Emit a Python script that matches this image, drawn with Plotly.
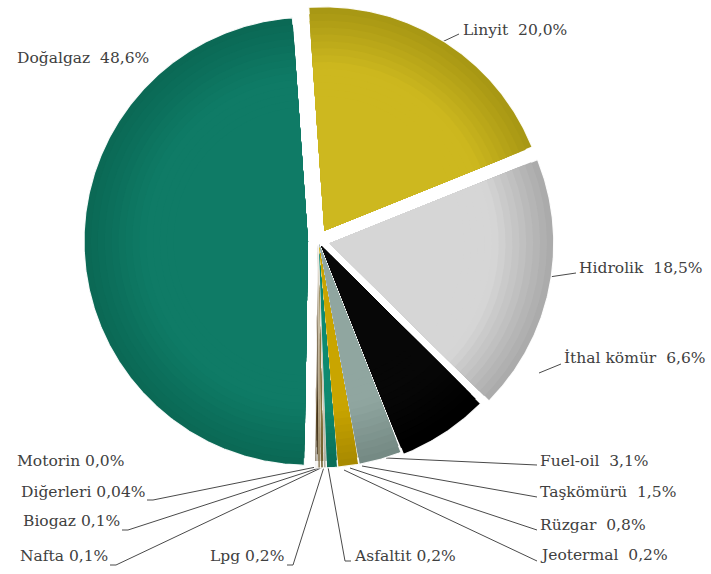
import numpy as np
import plotly.graph_objects as go

# Electricity generation by source (share, %)
sources = ["Linyit", "Hidrolik", "İthal kömür", "Fuel-oil", "Taşkömürü", "Rüzgar",
           "Jeotermal", "Asfaltit", "Lpg", "Nafta", "Biogaz", "Diğerleri", "Motorin",
           "Doğalgaz"]
shares = [20.0, 18.5, 6.6, 3.1, 1.5, 0.8, 0.2, 0.2, 0.2, 0.1, 0.1, 0.04, 0.0, 48.6]
share_text = ["20,0%", "18,5%", "6,6%", "3,1%", "1,5%", "0,8%", "0,2%", "0,2%", "0,2%",
              "0,1%", "0,1%", "0,04%", "0,0%", "48,6%"]

colors = ["#CDB81F", "#D6D6D6", "#070707", "#90A6A0", "#C9A500", "#0E8A70",
          "#CFCDBE", "#8C7A40", "#B3A382", "#4A3A20", "#6A5530", "#2A2A2A", "#111111",
          "#0F7B66"]
edge_colors = ["#A89814", "#ABABAB", "#000000", "#758A84", "#A88A00", "#0A6D58",
               "#AFAD9E", "#6C5C2A", "#938362", "#3A2A10", "#4A3A20", "#1A1A1A", "#000000",
               "#0B6955"]

W, H = 711, 574
CX, CY, R = 318, 241, 224
ROT = -4.0                       # start angle, degrees clockwise from 12 o'clock
pull = [12, 12, 6, 3, 3, 3, 3, 3, 3, 3, 3, 3, 3, 10]

fig = go.Figure()

# leader lines: (start point on the slice, end point beside the label)
leaders = {
    "Linyit": [(442, 42), (459, 34)],
    "Hidrolik": [(549, 277), (576, 273)],
    "İthal kömür": [(539, 373), (561, 364)],
    "Fuel-oil": [(386, 458), (537, 465)],
    "Taşkömürü": [(362, 466), (537, 497)],
    "Rüzgar": [(350, 468), (537, 530)],
    "Jeotermal": [(344, 470), (537, 561)],
    "Asfaltit": [(328, 467), (345, 561), (351, 561)],
    "Lpg": [(324, 467), (293, 565), (287, 565)],
    "Nafta": [(323, 467), (116, 565), (110, 565)],
    "Biogaz": [(322, 467), (128, 530), (122, 530)],
    "Diğerleri": [(321, 466), (153, 500), (147, 500)],
}
for pts in leaders.values():
    fig.add_trace(go.Scatter(x=[p[0] for p in pts], y=[p[1] for p in pts], mode="lines",
                             line=dict(color="#4a4a4a", width=1), hoverinfo="skip",
                             showlegend=False))


def rgb(hexstr):
    return np.array([int(hexstr[k:k + 2], 16) for k in (1, 3, 5)], dtype=float)


# slices
total = sum(shares)
start = ROT
steps = 14
for i, (name, v) in enumerate(zip(sources, shares)):
    span = 360.0 * v / total
    if span <= 0:
        continue
    end = start + span
    mid = np.radians((start + end) / 2)
    vx = CX + pull[i] * np.sin(mid)
    vy = CY - pull[i] * np.cos(mid)
    th = np.radians(np.linspace(start, end, max(int(span * 2), 4)))
    # soft shading: nested wedges blending from the rim colour to the body colour
    c0, c1 = rgb(edge_colors[i]), rgb(colors[i])
    for s in range(steps):
        t = s / (steps - 1)
        f = 1.0 - 0.4 * t
        c = (c0 + (c1 - c0) * min(1.0, t * 1.6)).astype(int)
        xs = np.concatenate([[vx], vx + R * f * np.sin(th), [vx]])
        ys = np.concatenate([[vy], vy - R * f * np.cos(th), [vy]])
        fig.add_trace(go.Scatter(
            x=xs, y=ys, mode="lines", fill="toself",
            fillcolor="rgb(%d,%d,%d)" % tuple(c),
            line=dict(color="rgba(255,255,255,0.9)" if s == 0 else "rgba(0,0,0,0)",
                      width=1.2 if s == 0 else 0),
            hoverinfo="skip", showlegend=False))
    start = end

# labels: (x, y, anchor)
label_pos = {
    "Doğalgaz": (15, 58, "left"),
    "Linyit": (461, 30, "left"),
    "Hidrolik": (577, 268, "left"),
    "İthal kömür": (562, 358, "left"),
    "Fuel-oil": (538, 461, "left"),
    "Taşkömürü": (538, 492, "left"),
    "Rüzgar": (538, 525, "left"),
    "Jeotermal": (538, 555, "left"),
    "Asfaltit": (352, 556, "left"),
    "Lpg": (286, 556, "right"),
    "Nafta": (110, 556, "right"),
    "Biogaz": (122, 521, "right"),
    "Diğerleri": (148, 492, "right"),
    "Motorin": (15, 461, "left"),
}
wide = {"Doğalgaz", "Linyit", "Hidrolik", "İthal kömür", "Fuel-oil", "Taşkömürü", "Rüzgar",
        "Jeotermal"}
for name, txt in zip(sources, share_text):
    x, y, anc = label_pos[name]
    gap = "\u00a0\u00a0" if name in wide else "\u00a0"
    fig.add_annotation(x=x, y=y, text=name + gap + txt, showarrow=False,
                       xanchor=anc, yanchor="middle",
                       font=dict(family="DejaVu Serif", size=15.5, color="#404040"))

fig.update_xaxes(range=[0, W], visible=False, fixedrange=True)
fig.update_yaxes(range=[H, 0], visible=False, fixedrange=True)
fig.update_layout(width=W, height=H, autosize=False,
                  margin=dict(l=0, r=0, t=0, b=0),
                  plot_bgcolor="white", paper_bgcolor="white")

fig.write_html("out.html")
